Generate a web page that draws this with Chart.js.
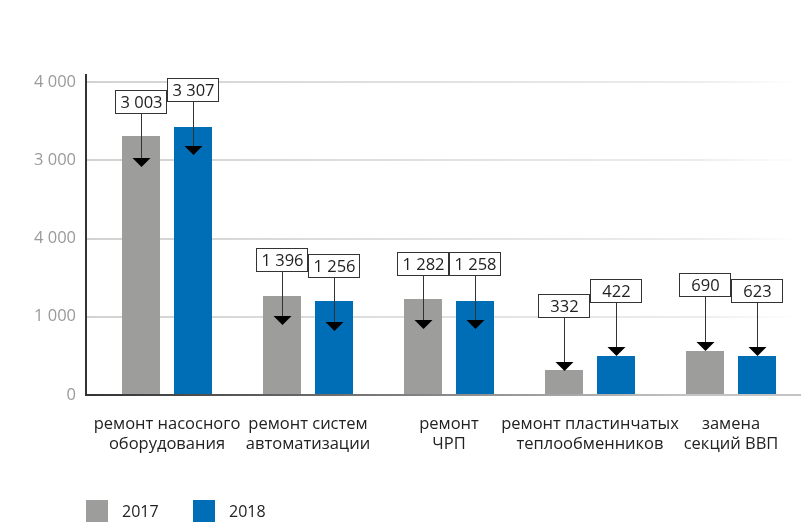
<!DOCTYPE html>
<html>
<head>
<meta charset="utf-8">
<script src="https://cdn.jsdelivr.net/npm/chart.js"></script>
<style>
  body { margin: 0; background: #fff; }
  #wrap { width: 802px; height: 522px; overflow: hidden; }
</style>
</head>
<body>
<div id="wrap"><canvas id="chart" width="802" height="522"></canvas></div>
<script>
// categories and series
const categories = [
    ['ремонт насосного', 'оборудования'],
    ['ремонт систем', 'автоматизации'],
    ['ремонт', 'ЧРП'],
    ['ремонт пластинчатых', 'теплообменников'],
    ['замена', 'секций ВВП']
];
const years = ['2017', '2018'];

// bar heights as drawn in the picture
const bars2017 = [3310, 1265, 1227, 319, 562];
const bars2018 = [3425, 1201, 1201, 498, 498];

// callout texts
const labels2017 = ['3 003', '1 396', '1 282', '332', '690'];
const labels2018 = ['3 307', '1 256', '1 258', '422', '623'];

// where the callout box sits and where its arrow points (value units)
const boxBase2017 = [3591, 1572, 1521, 984, 1252];
const boxBase2018 = [3744, 1495, 1521, 1176, 1176];
const arrowTip2017 = [2914, 895, 843, 307, 562];
const arrowTip2018 = [3067, 818, 843, 498, 498];

// y tick labels (as printed, by thousands)
const yTicks = [0, 1000, 2000, 3000, 4000];
const yTickLabels = ['0', '1 000', '4 000', '3 000', '4 000'];

const colors = ['#9d9d9c', '#006eb7'];
const FONT = '"Open Sans", sans-serif';

const callouts = [
    { labels: labels2017, base: boxBase2017, tip: arrowTip2017 },
    { labels: labels2018, base: boxBase2018, tip: arrowTip2018 }
];

const calloutPlugin = {
    id: 'callouts',
    afterDatasetsDraw(chart) {
        const ctx = chart.ctx;
        const yScale = chart.scales.y;
        ctx.save();
        callouts.forEach((c, di) => {
            const meta = chart.getDatasetMeta(di);
            meta.data.forEach((bar, i) => {
                const x = Math.round(bar.x);
                const bottom = Math.round(yScale.getPixelForValue(c.base[i]));
                const tip = Math.round(yScale.getPixelForValue(c.tip[i]));
                const w = 52, h = 24;
                // arrow line
                ctx.strokeStyle = '#333';
                ctx.lineWidth = 1;
                ctx.beginPath();
                ctx.moveTo(x + 0.5, bottom);
                ctx.lineTo(x + 0.5, tip - 8);
                ctx.stroke();
                // arrow head
                ctx.fillStyle = '#000';
                ctx.beginPath();
                ctx.moveTo(x - 9 + 0.5, tip - 9);
                ctx.lineTo(x + 9 + 0.5, tip - 9);
                ctx.lineTo(x + 0.5, tip);
                ctx.closePath();
                ctx.fill();
                // box
                ctx.fillStyle = '#fff';
                ctx.fillRect(x - w / 2, bottom - h, w, h);
                ctx.strokeRect(x - w / 2 + 0.5, bottom - h + 0.5, w - 1, h - 1);
                ctx.fillStyle = '#222';
                ctx.font = '16.5px ' + FONT;
                ctx.textAlign = 'center';
                ctx.textBaseline = 'middle';
                ctx.fillText(c.labels[i], x + 0.5, bottom - h / 2 + 1);
            });
        });
        ctx.restore();
    }
};

const legendPlugin = {
    id: 'bottomLegend',
    afterDraw(chart) {
        const ctx = chart.ctx;
        const left = chart.chartArea.left;
        const top = chart.chartArea.bottom + 105;
        ctx.save();
        ctx.font = '16px ' + FONT;
        ctx.textBaseline = 'middle';
        ctx.textAlign = 'left';
        let x = left;
        chart.data.datasets.forEach(ds => {
            ctx.fillStyle = ds.backgroundColor;
            ctx.fillRect(x, top, 22, 22);
            ctx.fillStyle = '#222';
            ctx.fillText(ds.label, x + 36, top + 12);
            x += 107;
        });
        ctx.restore();
    }
};

function fadeGradient(chart, from, to) {
    const area = chart.chartArea;
    if (!area) return from;
    const g = chart.ctx.createLinearGradient(area.left, 0, area.right, 0);
    g.addColorStop(0, from);
    g.addColorStop(0.85, to === '#ffffff' ? '#ececec' : to);
    g.addColorStop(1, to);
    return g;
}

const xMin = -0.5745;
const xMax = 4.4894;

new Chart(document.getElementById('chart'), {
    type: 'bar',
    data: {
        datasets: years.map((y, di) => ({
            label: y,
            data: (di === 0 ? bars2017 : bars2018).map((v, i) => ({ x: i, y: v })),
            backgroundColor: colors[di],
            borderWidth: 0,
            categoryPercentage: 0.7376,
            barPercentage: 0.731
        }))
    },
    options: {
        responsive: false,
        animation: false,
        layout: { padding: { top: 75, right: 2, left: 0, bottom: 0 } },
        plugins: {
            legend: { display: false },
            tooltip: { enabled: false }
        },
        scales: {
            x: {
                type: 'linear',
                offset: false,
                min: xMin,
                max: xMax,
                afterBuildTicks: s => { s.ticks = categories.map((c, i) => ({ value: i })); },
                afterFit: s => { s.height = 127; },
                grid: { display: false, drawTicks: false, offset: false },
                border: {
                    width: 2,
                    color: c => fadeGradient(c.chart, '#333333', '#c4c4c4')
                },
                ticks: {
                    autoSkip: false,
                    maxRotation: 0,
                    padding: 20,
                    color: '#222',
                    font: { family: FONT, size: 16.5, lineHeight: 1.17 },
                    callback: v => categories[v] || ''
                }
            },
            y: {
                min: 0,
                max: 4090,
                afterBuildTicks: s => { s.ticks = yTicks.map(v => ({ value: v })); },
                afterFit: s => { s.width = 86; },
                grid: {
                    drawTicks: false,
                    lineWidth: 2,
                    color: c => fadeGradient(c.chart, '#d2d2d2', '#ffffff')
                },
                border: { width: 2, color: '#333' },
                ticks: {
                    padding: 10,
                    color: '#9a9a9a',
                    font: { family: FONT, size: 16.5 },
                    callback: v => yTickLabels[yTicks.indexOf(v)]
                }
            }
        }
    },
    plugins: [calloutPlugin, legendPlugin]
});
</script>
</body>
</html>
